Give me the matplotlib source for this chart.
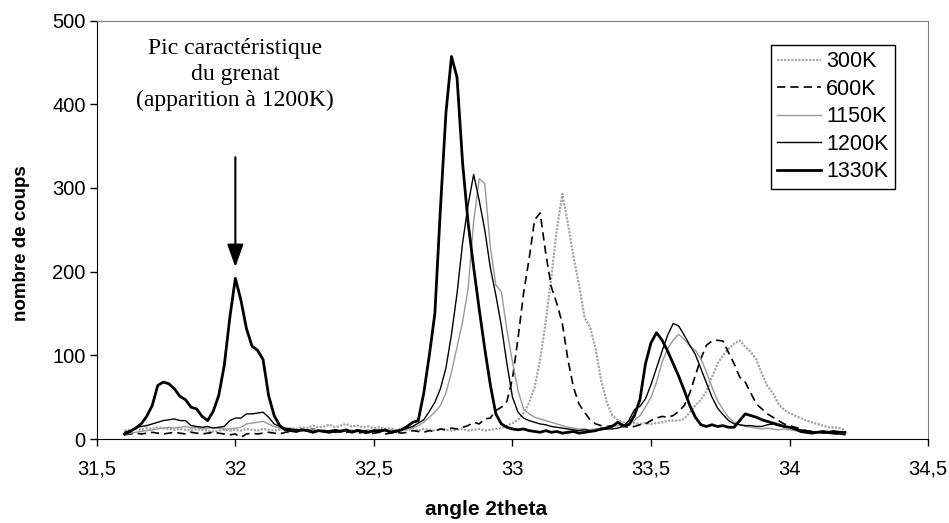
import numpy as np
import matplotlib.pyplot as plt

# angle 2theta, 0.02 step
angle = np.round(np.arange(31.60, 34.201, 0.02), 2)

k300 = [10, 11, 12, 11, 13, 12, 14, 13, 12, 11,
        12, 11, 10, 12, 11, 10, 9, 10, 11, 10,
        11, 10, 12, 11, 10, 12, 11, 10, 11, 12,
        13, 12, 14, 13, 16, 14, 15, 17, 14, 16,
        18, 15, 16, 14, 15, 13, 14, 12, 13, 11,
        12, 11, 13, 10, 12, 11, 10, 12, 11, 10,
        11, 12, 10, 11, 12, 10, 11, 12, 13, 16,
        19, 23, 31, 43, 62, 95, 140, 193, 250, 293,
        258, 218, 185, 145, 134, 108, 70, 44, 28, 23,
        20, 18, 19, 18, 19, 18, 19, 20, 22, 22,
        22, 24, 32, 40, 47, 57, 74, 90, 100, 108,
        114, 118, 110, 104, 95, 78, 63, 55, 42, 35,
        31, 28, 25, 22, 20, 18, 16, 14, 14, 13,
        11]
k600 = [5, 6, 7, 6, 7, 8, 7, 6, 7, 8,
        7, 6, 8, 7, 6, 7, 8, 7, 6, 5,
        6, 2, 6, 7, 6, 7, 8, 7, 6, 8,
        9, 10, 11, 10, 12, 10, 9, 10, 8, 9,
        8, 9, 7, 8, 6, 7, 8, 6, 7, 8,
        7, 8, 10, 9, 8, 10, 9, 12, 11, 13,
        12, 14, 16, 20, 18, 24, 25, 34, 38, 45,
        72, 120, 174, 215, 262, 270, 222, 182, 162, 138,
        95, 62, 42, 32, 23, 18, 16, 15, 16, 17,
        15, 14, 15, 17, 18, 22, 25, 27, 26, 28,
        33, 40, 55, 76, 96, 112, 117, 118, 117, 103,
        90, 74, 68, 55, 42, 36, 30, 26, 22, 18,
        16, 14, 12, 10, 9, 8, 8, 7, 7, 6,
        6]
k1150 = [5, 7, 8, 9, 10, 11, 12, 13, 14, 13,
         14, 15, 13, 14, 12, 13, 14, 13, 12, 12,
         13, 14, 18, 19, 20, 21, 18, 15, 13, 12,
         11, 12, 10, 11, 12, 10, 11, 9, 10, 11,
         10, 11, 9, 10, 11, 10, 9, 10, 11, 10,
         10, 12, 13, 16, 20, 26, 32, 40, 55, 80,
         110, 140, 180, 260, 311, 305, 230, 184, 176, 130,
         92, 58, 36, 30, 26, 24, 22, 20, 18, 16,
         14, 13, 12, 12, 11, 12, 13, 14, 15, 16,
         16, 18, 22, 28, 38, 50, 68, 92, 108, 118,
         125, 119, 111, 106, 96, 80, 62, 46, 35, 26,
         20, 17, 15, 14, 13, 12, 13, 12, 11, 12,
         11, 10, 10, 9, 9, 8, 8, 9, 8, 8,
         7]
k1200 = [8, 10, 13, 15, 16, 18, 20, 22, 23, 24,
         22, 22, 16, 15, 14, 15, 13, 14, 15, 22,
         25, 25, 30, 30, 31, 32, 26, 18, 15, 13,
         12, 11, 10, 11, 9, 10, 9, 10, 11, 9,
         10, 9, 11, 10, 9, 10, 11, 10, 9, 10,
         11, 13, 15, 19, 23, 33, 44, 60, 85, 125,
         174, 234, 280, 316, 285, 250, 205, 172, 135, 90,
         50, 32, 25, 22, 20, 18, 17, 15, 14, 13,
         12, 11, 10, 11, 10, 10, 11, 12, 12, 13,
         15, 22, 35, 39, 48, 65, 85, 105, 124, 138,
         135, 124, 112, 101, 84, 67, 50, 37, 29, 22,
         18, 17, 16, 16, 15, 15, 17, 18, 16, 15,
         14, 12, 11, 10, 9, 8, 7, 7, 6, 6,
         5]
k1330 = [6, 9, 13, 18, 27, 40, 64, 68, 66, 60,
         51, 47, 38, 36, 27, 22, 33, 52, 88, 145,
         192, 166, 132, 111, 106, 95, 52, 28, 16, 11,
         10, 9, 11, 10, 8, 10, 9, 8, 10, 9,
         11, 8, 10, 9, 8, 10, 9, 11, 8, 9,
         11, 15, 20, 22, 55, 100, 150, 275, 390, 457,
         432, 330, 258, 205, 155, 108, 65, 30, 18, 14,
         12, 11, 12, 10, 9, 8, 10, 8, 9, 7,
         8, 9, 7, 8, 9, 10, 12, 13, 15, 20,
         16, 17, 28, 47, 90, 115, 127, 118, 105, 90,
         75, 58, 40, 26, 17, 15, 17, 15, 16, 14,
         14, 22, 30, 28, 26, 23, 21, 19, 17, 15,
         14, 12, 9, 8, 7, 8, 9, 8, 9, 8,
         8]

xticks = [31.5, 32, 32.5, 33, 33.5, 34, 34.5]
xtick_labels = ['31,5', '32', '32,5', '33', '33,5', '34', '34,5']
yticks = [0, 100, 200, 300, 400, 500]

plt.rcParams['font.family'] = ['Liberation Sans', 'DejaVu Sans']

fig = plt.figure(figsize=(9.49, 5.23), dpi=100)
ax = fig.add_axes([0.102, 0.1606, 0.876, 0.8002])

ax.plot(angle, k300, color='#a6a6a6', lw=1.6, ls=(0, (1, 0.6)), label='300K')
ax.plot(angle, k600, color='black', lw=1.2, ls=(0, (5, 3)), label='600K')
ax.plot(angle, k1150, color='#999999', lw=1.0, label='1150K')
ax.plot(angle, k1200, color='black', lw=1.0, label='1200K')
ax.plot(angle, k1330, color='black', lw=2.0, label='1330K')

ax.set_xlim(31.5, 34.5)
ax.set_ylim(0, 500)
ax.set_xticks(xticks)
ax.set_xticklabels(xtick_labels)
ax.set_yticks(yticks)
ax.tick_params(labelsize=14.5, direction='out', length=5, width=1)
ax.tick_params(axis='x', pad=10)
ax.tick_params(axis='y', pad=3)

for s in ['top', 'right']:
    ax.spines[s].set_color('#808080')
for s in ['left', 'bottom']:
    ax.spines[s].set_color('black')

ax.set_xlabel('angle 2theta', fontsize=15, fontweight='bold')
ax.xaxis.set_label_coords(0.468, -0.145)
ax.set_ylabel('nombre de coups', fontsize=13.5, fontweight='bold')
ax.yaxis.set_label_coords(-0.08, 0.468)

# annotation on the garnet peak
ax.text(32.0, 435, 'Pic caractéristique\ndu grenat\n(apparition à 1200K)',
        ha='center', va='center', fontsize=17, family='Liberation Serif',
        linespacing=1.3)
ax.annotate('', xy=(32.0, 202), xytext=(32.0, 340),
            arrowprops=dict(arrowstyle='-|>,head_width=0.5,head_length=1.4',
                            color='black', lw=1.5))

leg = ax.legend(loc='upper left', bbox_to_anchor=(0.811, 0.9415), borderaxespad=0,
                fontsize=15.5, frameon=True, fancybox=False, edgecolor='black',
                framealpha=1, handlelength=2.0, handletextpad=0.25,
                labelspacing=0.3, borderpad=0.3)
leg.get_frame().set_linewidth(1.0)

plt.savefig('out.png', dpi=100)
